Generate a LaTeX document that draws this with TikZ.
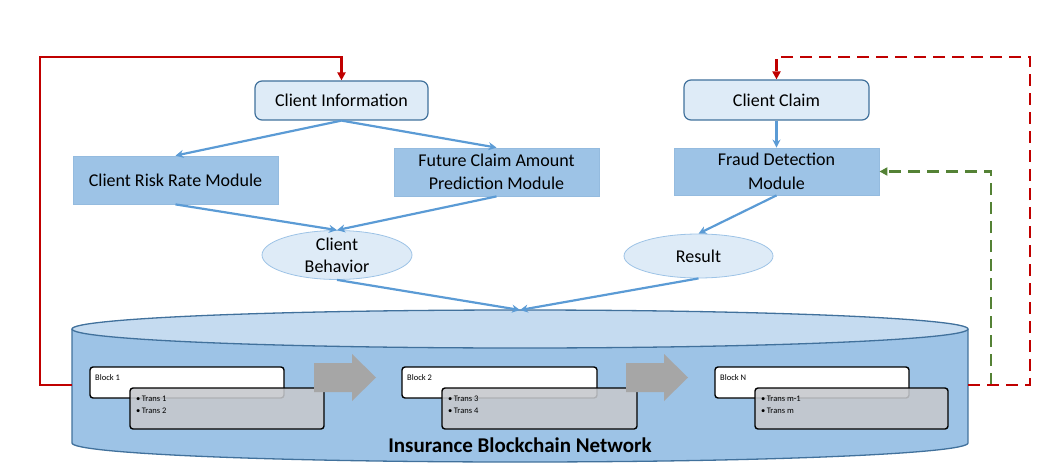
\documentclass[tikz,border=0pt]{standalone}
\usepackage{fontspec}
\setmainfont{Carlito}
\usetikzlibrary{shapes.geometric,arrows.meta}
\definecolor{lightfill}{HTML}{DEEBF7}
\definecolor{midfill}{HTML}{9DC3E6}
\definecolor{darkedge}{HTML}{41719C}
\definecolor{arrowblue}{HTML}{5B9BD5}
\definecolor{cyltop}{HTML}{C5DBF0}
\definecolor{redline}{HTML}{C00000}
\definecolor{greenline}{HTML}{548235}
\definecolor{transgrey}{HTML}{C6C8CC}
\definecolor{bigarrow}{HTML}{A6A6A6}
\tikzset{
  roundbox/.style={draw=darkedge, fill=lightfill, rounded corners=7pt, line width=1.2pt, font=\fontsize{18}{23}\selectfont, align=center, inner sep=0pt},
  modbox/.style={draw=midfill!90!darkedge, fill=midfill, line width=0.8pt, font=\fontsize{18}{23.5}\selectfont, align=center, inner sep=0pt},
  ellbox/.style={ellipse, draw=midfill, fill=lightfill, line width=0.8pt, font=\fontsize{18}{22}\selectfont, align=center, inner sep=0pt},
  flow/.style={draw=arrowblue, line width=2.2pt, -{Stealth[length=8pt,width=8pt]}},
  blockbox/.style={draw=black, fill=white, rounded corners=3pt, line width=1.4pt, inner sep=0pt},
  transbox/.style={draw=black, fill=transgrey, fill opacity=0.88, rounded corners=3pt, line width=1.4pt, inner sep=0pt},
  smalltext/.style={font=\fontsize{8.5}{12}\selectfont, inner sep=0pt, align=left},
  redsolid/.style={draw=redline, line width=2.3pt, -{Triangle[length=8pt,width=8pt]}},
  reddash/.style={draw=redline, line width=2.3pt, dash pattern=on 12pt off 7pt, -{Triangle[length=8pt,width=8pt]}},
  greendash/.style={draw=greenline, line width=2.3pt, dash pattern=on 12pt off 7pt, -{Triangle[length=8pt,width=8pt]}},
  bigarr/.style={fill=bigarrow, draw=none}
}
\begin{document}
\begin{tikzpicture}[x=1pt,y=-1pt]
\useasboundingbox (0,0) rectangle (1056,465);

% top nodes
\node[roundbox, minimum width=173pt, minimum height=39pt] (ci) at (341.5,100.5) {Client Information};
\node[modbox, minimum width=205pt, minimum height=48pt] (rr) at (175.5,180) {Client Risk Rate Module};
\node[modbox, minimum width=205pt, minimum height=48pt] (fc) at (496.5,172) {Future Claim Amount\\Prediction Module};
\node[roundbox, minimum width=185pt, minimum height=40pt] (cc) at (776.5,100) {Client Claim};
\node[modbox, minimum width=205pt, minimum height=47pt] (fd) at (776.5,171.5) {Fraud Detection\\Module};
\node[ellbox, minimum width=150pt, minimum height=44pt] (cb) at (337,255) {Client\\Behavior};
\node[ellbox, minimum width=149pt, minimum height=44pt] (rs) at (698.5,256) {Result};

% cylinder
\fill[midfill] (72,329) rectangle (968,443);
\fill[midfill] (520,443) ellipse [x radius=448pt, y radius=19pt];
\draw[darkedge, line width=1.3pt] (72,329) -- (72,443) arc[start angle=180, end angle=360, x radius=448pt, y radius=19pt] -- (968,329);
\draw[darkedge, fill=cyltop, line width=1.3pt] (520,329) ellipse [x radius=448pt, y radius=19pt];
\coordinate (cyl) at (520,310);
\coordinate (cylL) at (72,385);
\coordinate (cylR) at (968,385);
\coordinate (gstart) at (991,385);
\node[font=\bfseries\fontsize{21}{24}\selectfont, inner sep=0pt] (title) at (520,445) {Insurance Blockchain Network};

% blocks
\node[blockbox, minimum width=194pt, minimum height=31pt] (b1) at (187,382.5) {};
\node[smalltext, anchor=base west] (b1txt) at (95,380) {Block 1};
\node[transbox, minimum width=194pt, minimum height=41pt] (t1) at (227,408.5) {};
\node[smalltext, anchor=base west] (t1a) at (136,401) {\textbullet\,Trans 1};
\node[smalltext, anchor=base west] (t1b) at (136,413) {\textbullet\,Trans 2};

\node[blockbox, minimum width=195pt, minimum height=31pt] (b2) at (499.5,382.5) {};
\node[smalltext, anchor=base west] (b2txt) at (407,380) {Block 2};
\node[transbox, minimum width=195pt, minimum height=41pt] (t2) at (539.5,408.5) {};
\node[smalltext, anchor=base west] (t2a) at (448,401) {\textbullet\,Trans 3};
\node[smalltext, anchor=base west] (t2b) at (448,413) {\textbullet\,Trans 4};

\node[blockbox, minimum width=194pt, minimum height=31pt] (bn) at (812,382.5) {};
\node[smalltext, anchor=base west] (bntxt) at (720,380) {Block N};
\node[transbox, minimum width=193pt, minimum height=41pt] (tn) at (851.5,408.5) {};
\node[smalltext, anchor=base west] (tna) at (761,401) {\textbullet\,Trans m-1};
\node[smalltext, anchor=base west] (tnb) at (761,413) {\textbullet\,Trans m};

% big grey arrows
\path[bigarr] (314,363) -- (352,363) -- (352,354) -- (376,377.5) -- (352,401) -- (352,392) -- (314,392) -- cycle;
\path[bigarr] (626,363) -- (664,363) -- (664,354) -- (688,377.5) -- (664,401) -- (664,392) -- (626,392) -- cycle;

% flow arrows
\draw[flow] (ci.south) -- (rr.north);
\draw[flow] (ci.south) -- (fc.north);
\draw[flow] (rr.south) -- (cb.north);
\draw[flow] (fc.south) -- (cb.north);
\draw[flow] (cb.south) -- (cyl);
\draw[flow] (rs.south) -- (cyl);
\draw[flow] (cc.south) -- (fd.north);
\draw[flow] (fd.south) -- (rs.north);

% feedback lines
\draw[redsolid] (cylL) -- (40,385) -- (40,57) -| (ci.north);
\draw[greendash] (gstart) |- (fd.east);
\draw[reddash] (cylR) -- (1030,385) -- (1030,57) -| (cc.north);
\end{tikzpicture}
\end{document}
